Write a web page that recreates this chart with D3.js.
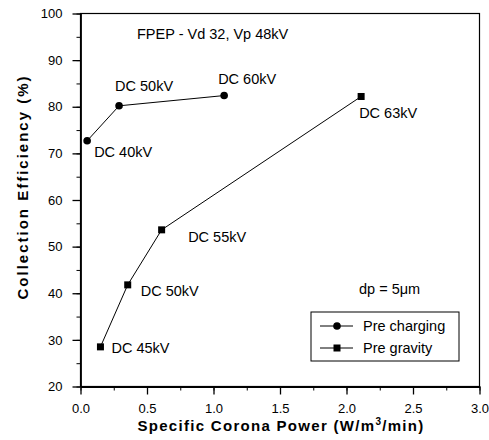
<!DOCTYPE html>
<html lang="en">
<head>
    <meta charset="UTF-8">
    <title>Collection Efficiency</title>
    <script src="https://cdn.jsdelivr.net/npm/d3@7"></script>
    <style>
        body {
            margin: 0;
            background: #fff;
        }

        #graphDiv text {
            font-family: "Liberation Sans", Arial, sans-serif;
            fill: #000;
        }
    </style>
</head>
<body>
<svg id="graphDiv" width="489" height="440"></svg>
<script>
    // Pre charging (circles)
    var chargingX = [0.05, 0.29, 1.08];
    var chargingY = [72.7, 80.2, 82.4];
    var chargingLabels = ["DC 40kV", "DC 50kV", "DC 60kV"];

    // Pre gravity (squares)
    var gravityX = [0.15, 0.355, 0.61, 2.11];
    var gravityY = [28.5, 41.8, 53.6, 82.2];
    var gravityLabels = ["DC 45kV", "DC 50kV", "DC 55kV", "DC 63kV"];

    var xTicks = [0, 0.5, 1, 1.5, 2, 2.5, 3];
    var yTicks = [20, 30, 40, 50, 60, 70, 80, 90, 100];
    var seriesNames = ["Pre charging", "Pre gravity"];

    // label offsets in px from the point
    var chargingOff = [[7, 16], [-4, -15], [-6, -12]];
    var gravityOff = [[11, 6.5], [13, 11], [26.5, 12.5], [-2, 21.5]];

    var svg = d3.select("#graphDiv");

    var x = d3.scaleLinear().domain([0, 3]).range([80.5, 479.5]);
    var y = d3.scaleLinear().domain([20, 100]).range([386.5, 13.5]);

    // frame
    svg.append("rect")
        .attr("x", x(0)).attr("y", y(100))
        .attr("width", x(3) - x(0)).attr("height", y(20) - y(100))
        .attr("fill", "none").attr("stroke", "#000").attr("stroke-width", 1.2);

    // minor ticks
    var minorX = d3.range(0, 3.01, 0.25);
    var minorY = d3.range(20, 100.1, 5);
    svg.append("g").attr("transform", "translate(0," + y(20) + ")")
        .call(d3.axisBottom(x).tickValues(minorX).tickSize(4).tickFormat(""))
        .call(function (g) { g.select(".domain").remove(); });
    svg.append("g").attr("transform", "translate(" + x(0) + ",0)")
        .call(d3.axisLeft(y).tickValues(minorY).tickSize(4).tickFormat(""))
        .call(function (g) { g.select(".domain").remove(); });

    var xAxis = svg.append("g").attr("transform", "translate(0," + y(20) + ")")
        .call(d3.axisBottom(x).tickValues(xTicks).tickSize(8).tickPadding(9)
            .tickFormat(d3.format(".1f")).tickSizeOuter(0));
    var yAxis = svg.append("g").attr("transform", "translate(" + x(0) + ",0)")
        .call(d3.axisLeft(y).tickValues(yTicks).tickSize(8).tickPadding(10).tickSizeOuter(0));

    [xAxis, yAxis].forEach(function (g) {
        g.select(".domain").attr("stroke-width", 1.8);
        g.selectAll(".tick line").attr("stroke-width", 1.3);
        g.selectAll("text").style("font-size", "13px");
    });

    // axis titles
    var xt = svg.append("text")
        .attr("x", 281).attr("y", 431)
        .attr("text-anchor", "middle")
        .style("font-size", "15px").style("font-weight", "bold")
        .style("letter-spacing", "1.3px");
    xt.append("tspan").text("Specific Corona Power (W/m");
    xt.append("tspan").attr("dy", -6).style("font-size", "10px").text("3");
    xt.append("tspan").attr("dy", 6).text("/min)");

    svg.append("text")
        .attr("transform", "translate(28,187) rotate(-90)")
        .attr("text-anchor", "middle")
        .style("font-size", "15px").style("font-weight", "bold")
        .style("letter-spacing", "2px")
        .text("Collection Efficiency (%)");

    // lines
    var line = d3.line()
        .x(function (d) { return x(d[0]); })
        .y(function (d) { return y(d[1]); });

    var charging = chargingX.map(function (v, i) { return [v, chargingY[i]]; });
    var gravity = gravityX.map(function (v, i) { return [v, gravityY[i]]; });

    svg.append("path").datum(charging).attr("d", line)
        .attr("fill", "none").attr("stroke", "#000").attr("stroke-width", 1);
    svg.append("path").datum(gravity).attr("d", line)
        .attr("fill", "none").attr("stroke", "#000").attr("stroke-width", 1);

    svg.selectAll("circle.pt").data(charging).enter().append("circle")
        .attr("class", "pt")
        .attr("cx", function (d) { return x(d[0]); })
        .attr("cy", function (d) { return y(d[1]); })
        .attr("r", 3.8).attr("fill", "#000");

    svg.selectAll("rect.pt").data(gravity).enter().append("rect")
        .attr("class", "pt")
        .attr("x", function (d) { return x(d[0]) - 3.5; })
        .attr("y", function (d) { return y(d[1]) - 3.5; })
        .attr("width", 7).attr("height", 7).attr("fill", "#000");

    // point labels
    svg.selectAll("text.lc").data(charging).enter().append("text")
        .attr("class", "lc")
        .attr("x", function (d, i) { return x(d[0]) + chargingOff[i][0]; })
        .attr("y", function (d, i) { return y(d[1]) + chargingOff[i][1]; })
        .style("font-size", "14.5px")
        .text(function (d, i) { return chargingLabels[i]; });

    svg.selectAll("text.lg").data(gravity).enter().append("text")
        .attr("class", "lg")
        .attr("x", function (d, i) { return x(d[0]) + gravityOff[i][0]; })
        .attr("y", function (d, i) { return y(d[1]) + gravityOff[i][1]; })
        .style("font-size", "14.5px")
        .text(function (d, i) { return gravityLabels[i]; });

    // annotations
    svg.append("text").attr("x", 137).attr("y", 38.5)
        .style("font-size", "14.5px").text("FPEP - Vd 32, Vp 48kV");
    svg.append("text").attr("x", 359).attr("y", 294)
        .style("font-size", "14.5px").text("dp = 5\u03bcm");

    // legend
    var leg = svg.append("g").attr("transform", "translate(311,312)");
    leg.append("rect").attr("width", 148).attr("height", 49)
        .attr("fill", "#fff").attr("stroke", "#000").attr("stroke-width", 1);

    seriesNames.forEach(function (name, i) {
        var ly = 14 + i * 22;
        leg.append("line").attr("x1", 9).attr("x2", 42).attr("y1", ly).attr("y2", ly)
            .attr("stroke", "#000").attr("stroke-width", 1);
        if (i == 0) {
            leg.append("circle").attr("cx", 26).attr("cy", ly).attr("r", 3.8).attr("fill", "#000");
        } else {
            leg.append("rect").attr("x", 22.5).attr("y", ly - 3.5)
                .attr("width", 7).attr("height", 7).attr("fill", "#000");
        }
        leg.append("text").attr("x", 52).attr("y", ly + 5)
            .style("font-size", "14.5px").text(name);
    });
</script>
</body>
</html>
